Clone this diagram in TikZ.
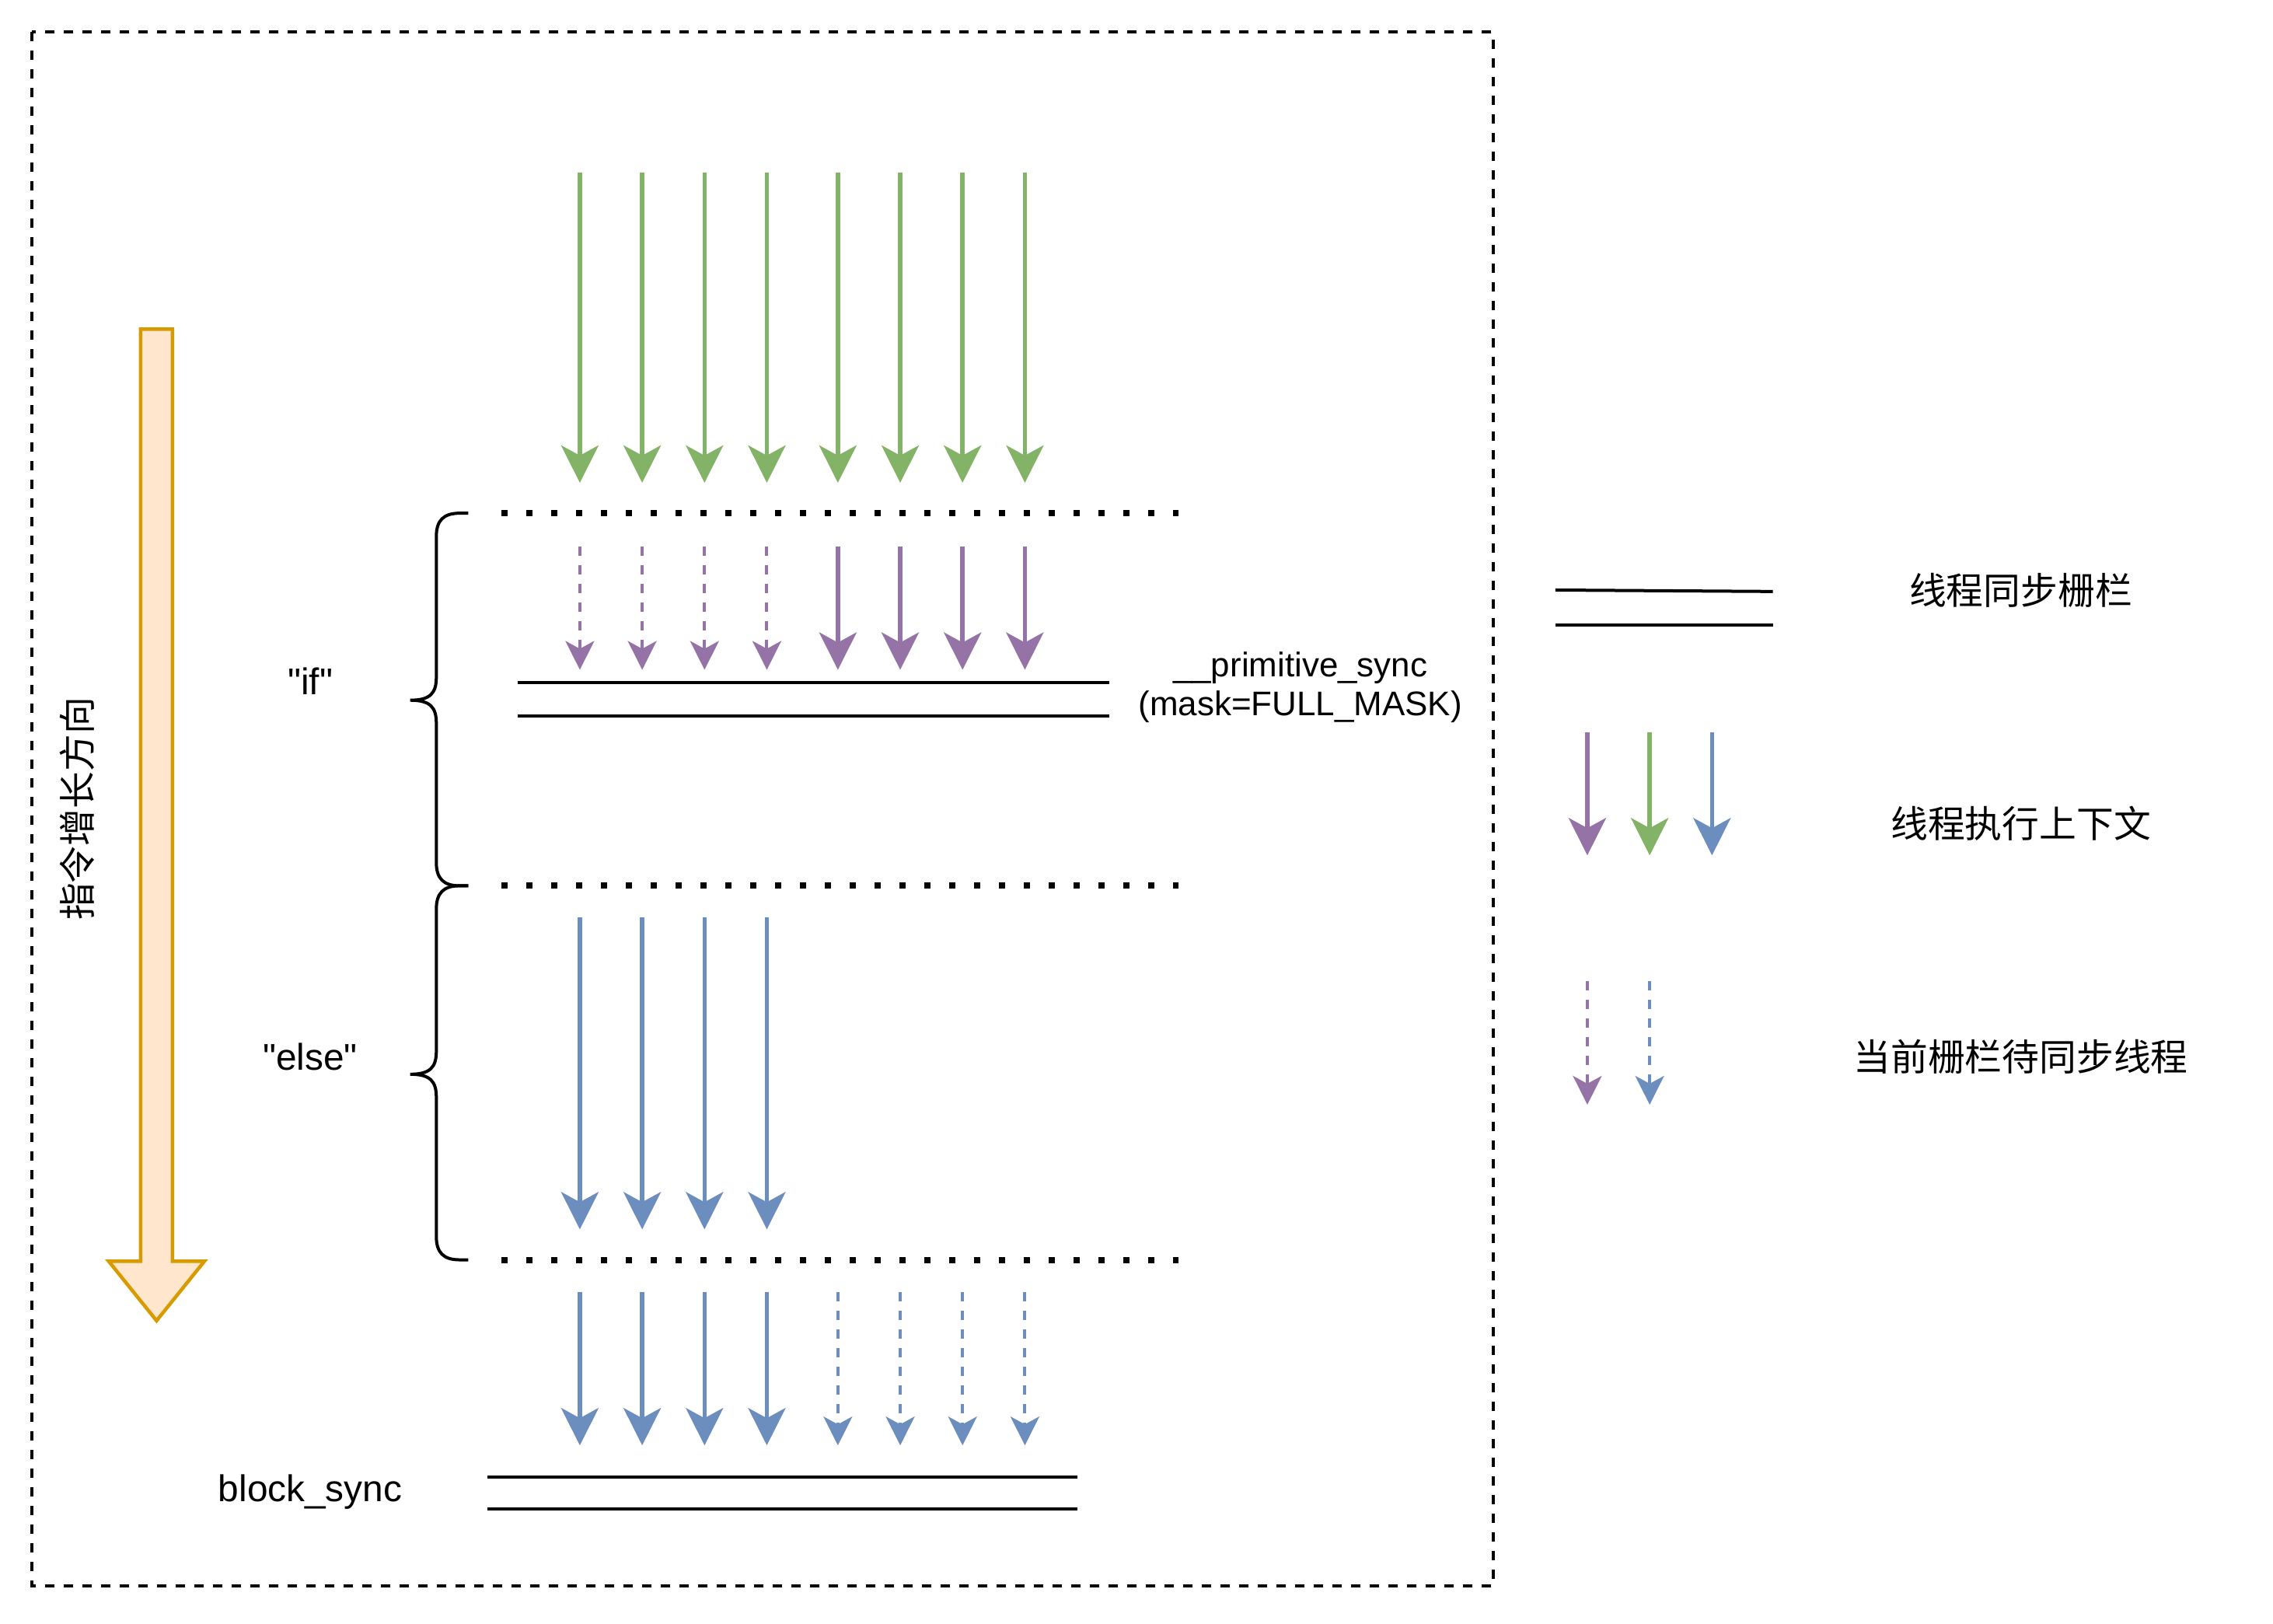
\documentclass[tikz,border=0pt]{standalone}
\usepackage{fontspec}
\setmainfont{Liberation Sans}[Ligatures=TeXOff]
\newfontfamily\cjk{Noto Sans CJK SC}
\usepackage{xcolor}
\usetikzlibrary{arrows.meta}

\definecolor{warpGreen}{HTML}{82B366}
\definecolor{warpPurple}{HTML}{9673A6}
\definecolor{warpBlue}{HTML}{6C8EBF}
\definecolor{flowFill}{HTML}{FFE6CC}
\definecolor{flowLine}{HTML}{D79B00}

\begin{document}
\begin{tikzpicture}[
  x=0.018648cm, y=-0.018648cm,
  every node/.style={font=\fontsize{13.6}{15.2}\selectfont, inner sep=0pt},
  cjktext/.style={font=\cjk\fontsize{13.6}{15.2}\selectfont},
  running/.style={line width=0.055cm, -{Stealth[length=0.48cm, width=0.48cm, inset=0.13cm]}},
  waiting/.style={line width=0.04cm, dash pattern=on 0.12cm off 0.12cm, -{Stealth[length=0.37cm, width=0.37cm, inset=0.1cm]}},
  stage/.style={line width=0.08cm, dash pattern=on 0.08cm off 0.24cm},
  fence/.style={line width=0.04cm},
  frame/.style={line width=0.04cm, dash pattern=on 0.12cm off 0.12cm},
]

\useasboundingbox (0,0) rectangle (1568,1120);

\draw[frame] (22,22) rectangle (1030,1094);

\draw[flowLine, fill=flowFill, line width=0.045cm, line join=miter]
  (97,227) -- (119,227) -- (119,870) -- (141,870) -- (108,911) -- (75,870) -- (97,870) -- cycle;
\node[cjktext, rotate=90] (growth) at (53,558) {指令增长方向};

\foreach \x in {400,443,486,529,578,621,664,707}
  \draw[running, warpGreen] (\x,119) -- (\x,333);

\draw[stage] (346,354) -- (813,354);
\draw[stage] (346,611) -- (813,611);
\draw[stage] (346,869) -- (813,869);

\foreach \x in {400,443,486,529}
  \draw[waiting, warpPurple] (\x,377) -- (\x,462);
\foreach \x in {578,621,664,707}
  \draw[running, warpPurple] (\x,377) -- (\x,462);

\draw[fence] (357,471) -- (765,471);
\draw[fence] (357,494) -- (765,494);
\node[align=center, font=\fontsize{12.5}{14.3}\selectfont] (primsync) at (897,474) {\_\_primitive\_sync\\(mask=FULL\_MASK)};

\foreach \x in {400,443,486,529}
  \draw[running, warpBlue] (\x,633) -- (\x,848);

\foreach \x in {400,443,486,529}
  \draw[running, warpBlue] (\x,891) -- (\x,997);
\foreach \x in {578,621,664,707}
  \draw[waiting, warpBlue] (\x,891) -- (\x,997);

\draw[fence] (336,1019) -- (743,1019);
\draw[fence] (336,1041) -- (743,1041);
\node (blocksync) at (214,1029) {block\_sync};

\draw[line width=0.04cm]
  (323,354) -- (317,354) .. controls (306,354) and (301,359) .. (301,370)
  -- (301,467) .. controls (301,478) and (297,483) .. (283,483)
  .. controls (297,483) and (301,488) .. (301,499)
  -- (301,595) .. controls (301,606) and (306,611) .. (317,611) -- (323,611);
\draw[line width=0.04cm]
  (323,611) -- (317,611) .. controls (306,611) and (301,616) .. (301,627)
  -- (301,725) .. controls (301,736) and (297,741) .. (283,741)
  .. controls (297,741) and (301,746) .. (301,757)
  -- (301,853) .. controls (301,864) and (306,869) .. (317,869) -- (323,869);
\node (ifbranch) at (214,470) {"if"};
\node (elsebranch) at (214,729) {"else"};

\draw[fence] (1073,407) -- (1223,408);
\draw[fence] (1073,431) -- (1223,431);
\node[cjktext] (legfence) at (1394,407) {线程同步栅栏};

\draw[running, warpPurple] (1095,505) -- (1095,590);
\draw[running, warpGreen] (1138,505) -- (1138,590);
\draw[running, warpBlue] (1181,505) -- (1181,590);
\node[cjktext] (legrun) at (1394,568) {线程执行上下文};

\draw[waiting, warpPurple] (1095,677) -- (1095,762);
\draw[waiting, warpBlue] (1138,677) -- (1138,762);
\node[cjktext] (legwait) at (1394,729) {当前栅栏待同步线程};

\end{tikzpicture}
\end{document}
